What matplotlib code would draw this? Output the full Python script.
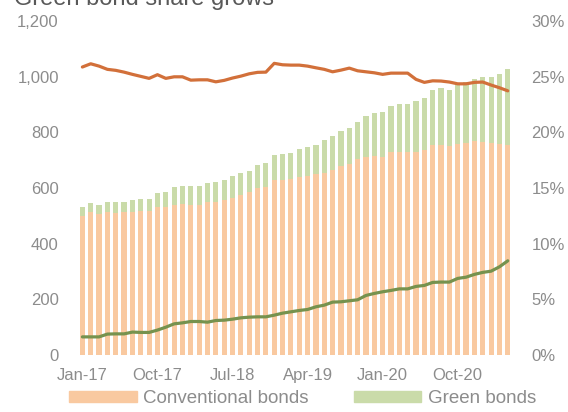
import matplotlib.pyplot as plt
from matplotlib.patches import Patch
import numpy as np

plt.rcParams["font.family"] = ["Liberation Sans", "DejaVu Sans"]

# monthly, Jan-17 .. Apr-21
conventional = [499, 513, 507, 514, 511, 513, 514, 518, 518, 533, 532, 541, 543, 539,
                541, 550, 550, 556, 565, 574, 585, 601, 605, 628, 628, 631, 640, 644,
                649, 655, 664, 678, 685, 703, 710, 714, 711, 730, 730, 729, 730, 735,
                753, 755, 752, 758, 763, 769, 766, 761, 757, 755]
total = [532, 545, 539, 551, 549, 551, 556, 561, 561, 583, 586, 603, 607, 606,
         607, 618, 621, 629, 642, 654, 661, 683, 690, 720, 721, 727, 741, 747,
         756, 771, 786, 805, 816, 838, 859, 871, 873, 895, 903, 903, 912, 923,
         952, 958, 953, 973, 982, 991, 999, 999, 1009, 1027]
green = [t - c for t, c in zip(total, conventional)]

orange_line = [25.87, 26.16, 25.95, 25.66, 25.57, 25.41, 25.21, 25.03, 24.85, 25.18,
               24.85, 24.99, 24.99, 24.69, 24.72, 24.72, 24.54, 24.67, 24.88, 25.05,
               25.26, 25.39, 25.41, 26.20, 26.07, 26.04, 26.04, 25.95, 25.80, 25.66,
               25.44, 25.59, 25.77, 25.53, 25.44, 25.35, 25.21, 25.32, 25.32, 25.32,
               24.76, 24.49, 24.63, 24.61, 24.52, 24.36, 24.36, 24.49, 24.52, 24.25,
               24.01, 23.73]
green_line = [1.64, 1.64, 1.64, 1.89, 1.91, 1.91, 2.07, 2.04, 2.04, 2.25, 2.51, 2.81,
              2.90, 3.02, 3.02, 2.96, 3.11, 3.14, 3.23, 3.35, 3.41, 3.44, 3.44, 3.59,
              3.77, 3.89, 4.01, 4.10, 4.34, 4.49, 4.76, 4.79, 4.88, 4.97, 5.36, 5.54,
              5.69, 5.81, 5.95, 5.95, 6.17, 6.26, 6.53, 6.56, 6.56, 6.89, 7.00, 7.25,
              7.43, 7.54, 7.93, 8.47]

tick_pos = [0, 9, 18, 27, 36, 45]
tick_labels = ["Jan-17", "Oct-17", "Jul-18", "Apr-19", "Jan-20", "Oct-20"]

c_conv = "#F9C9A0"
c_green = "#CADBA9"
c_orange = "#D2703A"
c_dgreen = "#76924E"
grey = "#8C8C8C"

fig = plt.figure(figsize=(5.68, 4.12), dpi=100)
ax = fig.add_axes([0.123, 0.138, 0.793, 0.811])
x = np.arange(len(conventional))

ax.bar(x, conventional, width=0.62, color=c_conv, edgecolor="none")
ax.bar(x, green, bottom=conventional, width=0.62, color=c_green, edgecolor="none")
ax.set_ylim(0, 1200)
ax.set_xlim(-1.5, len(x) + 0.5)
ax.set_yticks(range(0, 1201, 200))
ax.set_yticklabels([f"{v:,}" for v in range(0, 1201, 200)])
ax.set_xticks(tick_pos)
ax.set_xticklabels(tick_labels)

ax2 = ax.twinx()
ax2.plot(x, orange_line, color=c_orange, lw=2.3, solid_capstyle="round")
ax2.plot(x, green_line, color=c_dgreen, lw=2.3, solid_capstyle="round")
ax2.set_ylim(0, 30)
ax2.set_yticks(range(0, 31, 5))
ax2.set_yticklabels([f"{v}%" for v in range(0, 31, 5)])

for a in (ax, ax2):
    for s in a.spines.values():
        s.set_visible(False)
    a.tick_params(length=0, labelsize=12, colors=grey)
ax.tick_params(axis="y", pad=8)
ax.tick_params(axis="x", pad=9)
ax2.tick_params(axis="y", pad=8)

# title is cut at the top edge, as in the source image
fig.text(0.025, 0.988, "Green bond share grows", fontsize=17, color="#595959",
         va="baseline", ha="left")

handles = [Patch(color=c_conv, label="Conventional bonds"),
           Patch(color=c_green, label="Green bonds")]
fig.legend(handles=handles, loc="lower center", bbox_to_anchor=(0.533, -0.03),
           ncol=2, frameon=False, fontsize=13.5, handlelength=3.6, handleheight=0.5,
           columnspacing=2.4, handletextpad=0.35, labelcolor=grey)

fig.savefig("out.png", dpi=100)
